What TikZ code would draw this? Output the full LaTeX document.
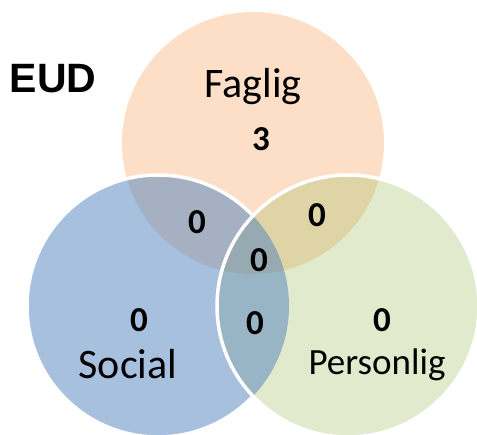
\documentclass[tikz,border=0pt]{standalone}
\usepackage{fontspec}
\setmainfont{Carlito}
\newfontfamily\eudfont{Liberation Sans}
\usetikzlibrary{positioning}
\definecolor{fagligColor}{RGB}{247,150,70}
\definecolor{socialColor}{RGB}{79,129,189}
\definecolor{personligColor}{RGB}{155,187,89}

\begin{document}
\begin{tikzpicture}[x=1pt,y=-1pt]

    \tikzstyle{setName}=[anchor=base, inner sep=0pt, font=\fontsize{42}{42}\selectfont]
    \tikzstyle{countNode}=[inner sep=0pt, font=\fontsize{35}{35}\selectfont\bfseries]
    \tikzstyle{setBorder}=[draw=white, line width=3.5pt]

    \useasboundingbox (0,0) rectangle (477,435);

    \begin{scope}
        % Circle size
        \def \rad {131pt}

        % Centres
        \coordinate (F) at (253,143);
        \coordinate (S) at (158,306);
        \coordinate (P) at (348,306);

        % Fills
        \fill[fagligColor, fill opacity=0.3] (F) circle (\rad);
        \fill[personligColor, fill opacity=0.3] (P) circle (\rad);
        \fill[socialColor, fill opacity=0.5] (S) circle (\rad);

        % White borders
        \begin{scope}[even odd rule]
            \clip (-10,-10) rectangle (490,450) (P) circle (\rad);
            \draw[setBorder] (S) circle (\rad);
        \end{scope}
        \draw[setBorder] (P) circle (\rad);

        % Title
        \node at (53,93) [anchor=base, inner sep=0pt, font=\eudfont\fontsize{41}{41}\selectfont\bfseries] (EUD) {EUD};

        % Set names
        \node at (253,98)  [setName] (Faglig)    {Faglig};
        \node at (128,379) [setName] (Social)    {Social};
        \node at (377,375) [setName, font=\fontsize{37}{37}\selectfont] (Personlig) {Personlig};

        % Counts
        \node at (261,139) [countNode] (nF)   {3};
        \node at (197,222) [countNode] (nFS)  {0};
        \node at (317,215) [countNode] (nFP)  {0};
        \node at (259,260) [countNode] (nFSP) {0};
        \node at (139,320) [countNode] (nS)   {0};
        \node at (255,323) [countNode] (nSP)  {0};
        \node at (382,320) [countNode] (nP)   {0};
    \end{scope}
\end{tikzpicture}
\end{document}
